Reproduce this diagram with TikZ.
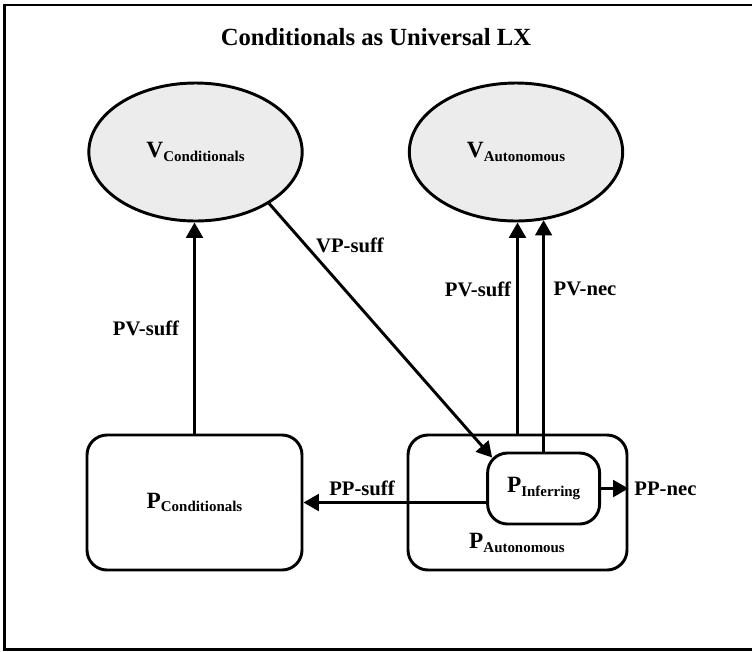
\documentclass[tikz,border=0pt]{standalone}
\usepackage{fontspec}
\setmainfont{Liberation Serif}
\usetikzlibrary{arrows.meta,shapes.geometric}
\newcommand\sublab[2]{{\fontsize{17.5}{17.5}\selectfont #1}\raisebox{-2.5pt}{\fontsize{11.2}{11.2}\selectfont #2}}
\begin{document}
\begin{tikzpicture}[x=0.75pt,y=-0.75pt, font=\bfseries,
  line width=2.2pt,
  vnode/.style={ellipse, draw, fill=gray!15, minimum width=160pt, minimum height=103.5pt, inner sep=0pt},
  pbox/.style={draw, rounded corners=15pt, inner sep=0pt},
  arr/.style={-{Triangle[length=11.5pt,width=12.5pt]}},
  lab/.style={font=\fontsize{15.5}{15.5}\selectfont\bfseries, inner sep=0pt}]
\useasboundingbox (0,0) rectangle (752,651);
\clip (0,0) rectangle (752,651);
\draw[line width=2pt] (770,5) -- (4.5,5) -- (4.5,649.5) -- (770,649.5);

\node[font=\fontsize{18.5}{18.5}\selectfont\bfseries] (title) at (376,37) {Conditionals as Universal LX};

\node[vnode] (vc) at (195.5,152) {\sublab{V}{Conditionals}};
\node[vnode] (va) at (516,152) {\sublab{V}{Autonomous}};
\node[pbox, minimum width=161.25pt, minimum height=101.25pt] (pc) at (194.5,502.5) {\sublab{P}{Conditionals}};
\node[pbox, minimum width=164.25pt, minimum height=101.25pt] (pa) at (517.5,502.5) {};
\node[inner sep=0pt] (patext) at (517,543) {\sublab{P}{Autonomous}};
\node[pbox, minimum width=84pt, minimum height=53.25pt] (pin) at (543.6,488.5) {\sublab{P}{Inferring}};

\draw[arr] (pc.north) -- (pc.north |- vc.south);
\draw[arr] (vc.-35) -- ([shift={(6,6)}]pin.north west);
\draw[arr] (pa.north) -- (pa.north |- va.-89);
\draw[arr] (pin.north) -- (pin.north |- va.-68);
\draw[arr] (pin.west |- pc.east) -- (pc.east);
\draw[arr] (pin.east) -- (pin.east -| pa.east);

\node[lab] (l1) at (146,328) {PV-suff};
\node[lab] (l2) at (350,245) {VP-suff};
\node[lab] (l3) at (478,289) {PV-suff};
\node[lab] (l4) at (585,289) {PV-nec};
\node[lab] (l5) at (362,488) {PP-suff};
\node[lab, anchor=west] (l6) at (633,489) {PP-nec};
\end{tikzpicture}
\end{document}
